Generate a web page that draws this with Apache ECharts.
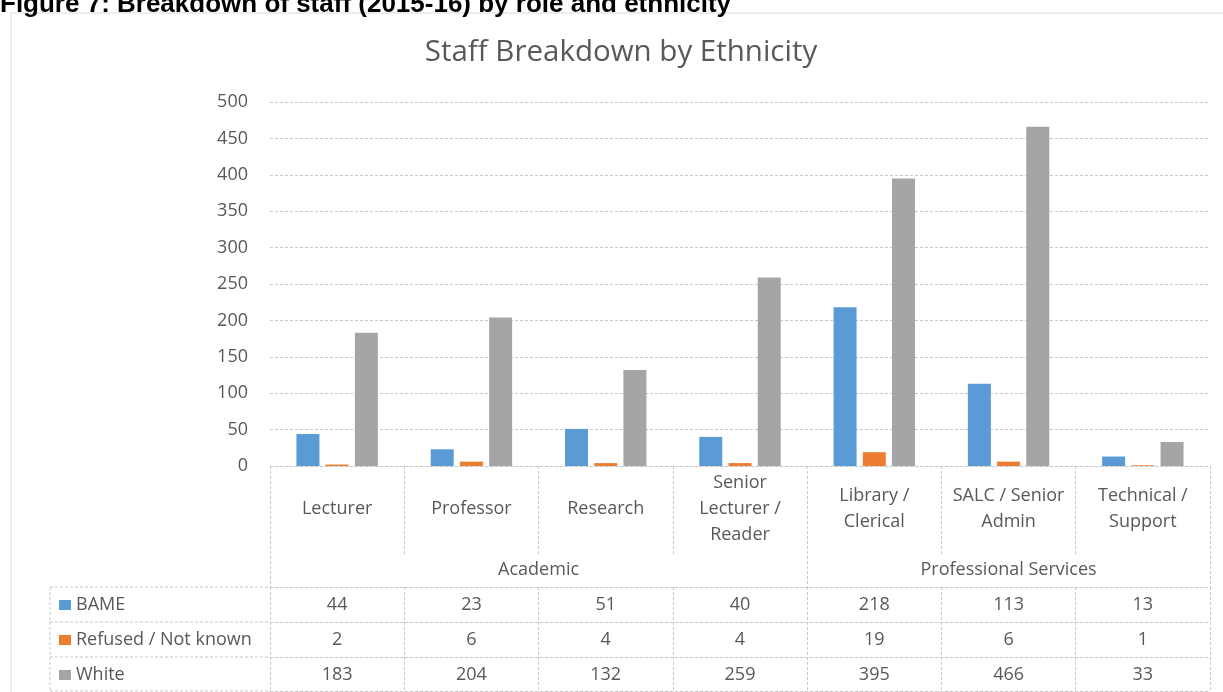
<!DOCTYPE html>
<html>
<head>
<meta charset="utf-8">
<script src="https://cdn.jsdelivr.net/npm/echarts@6/dist/echarts.min.js"></script>
<style>
  html, body { margin: 0; padding: 0; background: #ffffff; }
  #chart { width: 1223px; height: 692px; }
</style>
</head>
<body>
<div id="chart"></div>
<script>
// ---- data ----
const caption = 'Figure 7: Breakdown of staff (2015-16) by role and ethnicity';
const chartTitle = 'Staff Breakdown by Ethnicity';
const roles = ['Lecturer', 'Professor', 'Research', 'Senior\nLecturer /\nReader',
               'Library /\nClerical', 'SALC / Senior\nAdmin', 'Technical /\nSupport'];
const groups = ['Academic', 'Professional Services'];
const groupSizes = [4, 3];
const seriesNames = ['BAME', 'Refused / Not known', 'White'];
const bame = [44, 23, 51, 40, 218, 113, 13];
const refused = [2, 6, 4, 4, 19, 6, 1];
const white = [183, 204, 132, 259, 395, 466, 33];
const yMin = 0, yMax = 500, yStep = 50;

// ---- styling ----
const FONT = '"Open Sans", "Liberation Sans", sans-serif';
const TEXT = '#595959';
const LINE = '#c8c8c8';
const colors = ['#5b9bd5', '#ed7d31', '#a5a5a5'];
const seriesValues = [bame, refused, white];

// group boundaries and centres on a 0..n scale
const groupEdges = [0];
groupSizes.forEach(s => groupEdges.push(groupEdges[groupEdges.length - 1] + s));
const groupCentres = groups.map((g, i) => (groupEdges[i] + groupEdges[i + 1]) / 2);

const ROW_H = 35;      // data-table row height
const LABEL_H = 121;   // category label band height
const TABLE_TOP = 587; // y of the first data-table row
const dashed = { color: LINE, width: 1, type: [3, 2] };

// one x axis per data-table row, lines and ticks form the cells
const tableAxes = seriesValues.map((vals, r) => ({
  type: 'category', gridIndex: 0, position: 'bottom',
  offset: LABEL_H + r * ROW_H,
  data: roles,
  axisLine: { show: true, lineStyle: dashed },
  axisTick: { show: true, interval: 0, length: ROW_H, lineStyle: dashed },
  axisLabel: {
    interval: 0, margin: ROW_H / 2, verticalAlign: 'middle',
    fontFamily: FONT, fontSize: 18, color: TEXT,
    formatter: (v, i) => String(vals[i])
  },
  splitLine: { show: false }
}));

// one legend entry per data-table row (left-hand key column)
const legends = seriesNames.map((name, r) => ({
  data: [name], orient: 'horizontal', left: 59, top: TABLE_TOP + r * ROW_H + 8,
  itemWidth: 12, itemHeight: 10, icon: 'rect', padding: 0,
  textStyle: { fontFamily: FONT, fontSize: 18, color: TEXT, lineHeight: 20 },
  selectedMode: false
}));

const chart = echarts.init(document.getElementById('chart'));
chart.setOption({
  animation: false,
  color: colors,
  title: {
    text: chartTitle, left: 621, top: 38, textAlign: 'center', padding: 0,
    textStyle: { fontFamily: FONT, fontSize: 29.5, fontWeight: 'normal', color: TEXT }
  },
  legend: legends,
  grid: { left: 270, right: 13, top: 102, bottom: 226, containLabel: false },
  yAxis: {
    type: 'value', min: yMin, max: yMax, interval: yStep,
    axisLine: { show: false }, axisTick: { show: false },
    axisLabel: { margin: 22, fontFamily: FONT, fontSize: 18, color: TEXT },
    splitLine: { lineStyle: dashed }
  },
  xAxis: [
    {
      type: 'category', data: roles, position: 'bottom',
      axisLine: { show: true, lineStyle: dashed },
      axisTick: { show: true, interval: 0, length: 88, lineStyle: dashed },
      axisLabel: {
        interval: 0, margin: 43, verticalAlign: 'middle', lineHeight: 26,
        align: 'center', fontFamily: FONT, fontSize: 18, color: TEXT
      }
    },
    {
      type: 'value', min: 0, max: roles.length, position: 'bottom', offset: 0,
      axisLine: { show: false },
      axisTick: { show: true, customValues: groupEdges, length: LABEL_H, lineStyle: dashed },
      axisLabel: {
        customValues: groupCentres, margin: 104, verticalAlign: 'middle',
        fontFamily: FONT, fontSize: 18, color: TEXT,
        formatter: v => groups[groupCentres.indexOf(v)] || ''
      },
      splitLine: { show: false }
    },
    ...tableAxes,
    {
      type: 'category', data: roles, position: 'bottom',
      offset: LABEL_H + seriesValues.length * ROW_H - 1,
      axisLine: { show: true, lineStyle: dashed },
      axisTick: { show: false }, axisLabel: { show: false }
    }
  ],
  series: seriesNames.map((name, i) => ({
    name, type: 'bar', xAxisIndex: 0, data: seriesValues[i],
    barWidth: 23, barGap: '27%',
    itemStyle: { color: colors[i] }
  })),
  graphic: [
    // outer chart frame
    { type: 'rect', shape: { x: 11, y: 13, width: 1300, height: 800 },
      style: { fill: 'none', stroke: '#d9d9d9', lineWidth: 1 }, silent: true },
    // key column of the data table
    ...[0, 1, 2, 3].map(k => {
      const y = TABLE_TOP + k * ROW_H - (k === 3 ? 1 : 0);
      return { type: 'line', silent: true, shape: { x1: 50, y1: y, x2: 270, y2: y },
               style: { stroke: LINE, lineWidth: 1, lineDash: [3, 2] } };
    }),
    { type: 'line', silent: true, shape: { x1: 50, y1: TABLE_TOP, x2: 50, y2: 692 },
      style: { stroke: LINE, lineWidth: 1, lineDash: [3, 2] } },
    // figure caption
    { type: 'text', x: 0, y: 5, silent: true,
      style: { text: caption, fontFamily: '"Liberation Sans", Arial, sans-serif',
               fontSize: 26, fontWeight: 'bold', fill: '#000000', verticalAlign: 'middle' } }
  ]
});
</script>
</body>
</html>
